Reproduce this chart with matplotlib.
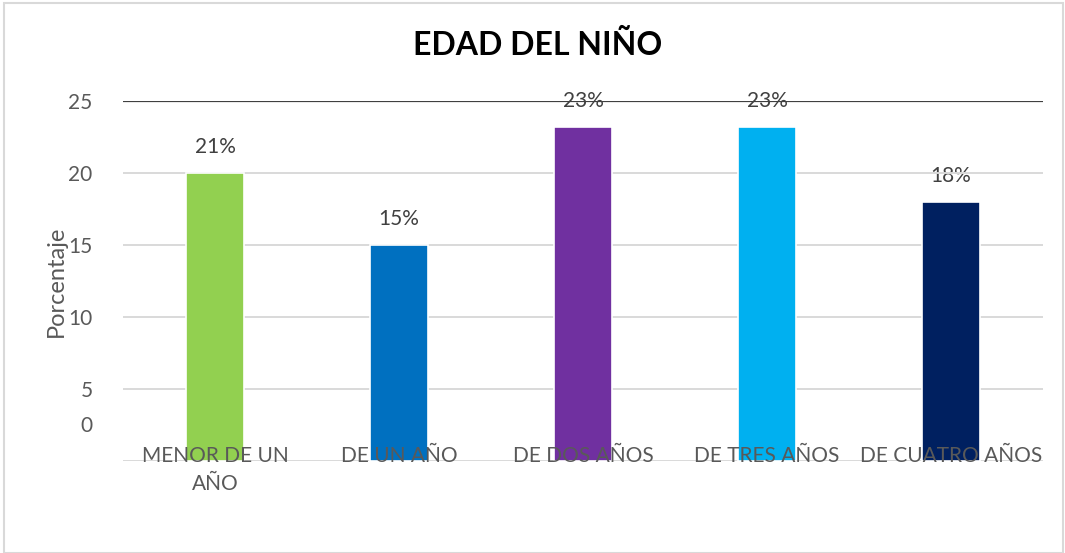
import matplotlib
matplotlib.use('Agg')
import matplotlib.pyplot as plt
import matplotlib.transforms as mtransforms
from matplotlib.patches import Rectangle

# data
categorias = ['MENOR DE UN\nAÑO', 'DE UN AÑO', 'DE DOS AÑOS', 'DE TRES AÑOS', 'DE CUATRO AÑOS']
valores = [20, 15, 23.2, 23.2, 18]
etiquetas = ['21%', '15%', '23%', '23%', '18%']
colores = ['#92d050', '#0070c0', '#7030a0', '#00b0f0', '#002060']
yticks = [0, 5, 10, 15, 20, 25]

plt.rcParams['font.family'] = ['Lato', 'DejaVu Sans']
gris = '#595959'

fig = plt.figure(figsize=(10.65, 5.53), dpi=100)
ax = fig.add_axes([123/1065, 1 - 461/553, 920/1065, 360/553])

# gridlines
for v in yticks:
    if v == 25:
        ax.axhline(v, color='#404040', lw=1.6, zorder=1)
    else:
        ax.axhline(v, color='#d9d9d9', lw=1.4, zorder=1)

x = range(len(categorias))
ax.bar(x, valores, width=0.315, color=colores, edgecolor='white', linewidth=1.2, zorder=2)

for i, (v, t) in enumerate(zip(valores, etiquetas)):
    ax.text(i, v + 1.8, t, ha='center', va='center', fontsize=15, color='#404040', zorder=0.5)

for i, c in enumerate(categorias):
    ax.text(i, 1.05, c, ha='center', va='top', fontsize=15, color=gris, linespacing=1.5, zorder=3)

ax.set_xlim(-0.5, 4.5)
ax.set_ylim(0, 25)
ax.set_xticks([])
ax.set_yticks(yticks)
ax.set_yticklabels([str(v) for v in yticks], fontsize=15, color=gris)
ax.tick_params(axis='y', length=0, pad=22)
# the "0" label sits halfway between 0 and 5 in the original
lbl0 = ax.get_yticklabels()[0]
lbl0.set_transform(lbl0.get_transform() + mtransforms.ScaledTranslation(0, 37/100, fig.dpi_scale_trans))
for s in ax.spines.values():
    s.set_visible(False)
ax.set_ylabel('Porcentaje', fontsize=17, color=gris, labelpad=1)

fig.text(538/1065, 1 - 45/553, 'EDAD DEL NIÑO', ha='center', va='center',
         fontsize=23, fontweight='bold', color='black')

fig.patches.append(Rectangle((4/1065, 0), 1 - 4/1065 - 2/1065, 1 - 3/553, transform=fig.transFigure,
                             fill=False, edgecolor='#d9d9d9', lw=1.5))

fig.savefig('out.png', dpi=100)
